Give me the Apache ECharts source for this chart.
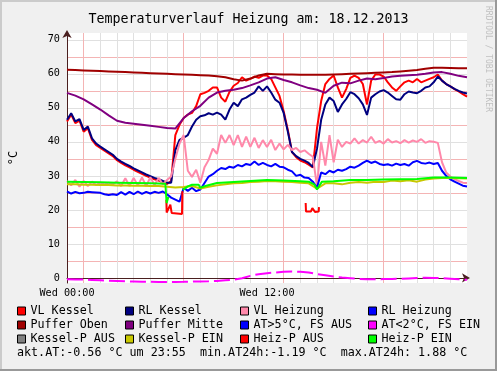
<!DOCTYPE html>
<html><head><meta charset="utf-8">
<script src="https://cdn.jsdelivr.net/npm/echarts@6/dist/echarts.min.js"></script>
<style>html,body{margin:0;padding:0;background:#f0f0f0;overflow:hidden}#c{width:497px;height:371px}</style>
</head><body><div id="c"></div>
<script>
// ---- time grids (hours since Wed 00:00) ----
const hoursQ = Array.from({length: 97}, (_, i) => i * 0.25);
const hoursH = Array.from({length: 49}, (_, i) => i * 0.5);

// ---- series values (°C) ----
const vlKessel = [46.0,48.0,45.5,46.2,43.0,44.0,40.6,39.0,38.2,37.4,
 36.6,35.8,34.6,33.8,33.1,32.5,31.8,31.2,30.6,30.0,
 29.5,29.0,28.6,28.1,27.6,28.5,42.0,45.0,47.0,48.0,
 48.5,50.5,54.0,54.4,55.0,56.0,56.0,53.0,51.8,54.7,
 56.5,57.3,59.0,58.0,58.5,59.2,58.8,59.5,59.5,58.5,
 56.0,53.5,49.0,43.5,37.0,35.5,34.5,34.0,33.3,32.5,
 44.0,52.0,57.0,58.5,59.5,56.0,53.0,55.5,58.8,59.5,
 58.8,57.0,51.0,58.0,59.8,59.8,59.2,57.5,56.0,55.0,
 56.3,57.5,58.0,57.5,58.5,57.5,58.0,58.5,59.0,59.8,
 58.0,57.0,56.3,55.5,54.8,54.0,53.3];
const rlKessel = [46.5,48.4,46.0,46.7,43.5,44.5,41.0,39.5,38.6,37.8,
 37.0,36.2,35.0,34.2,33.5,32.9,32.2,31.6,31.0,30.4,
 29.9,29.4,29.0,28.5,28.0,28.0,37.6,40.6,41.2,42.0,
 44.5,46.5,47.5,47.8,48.4,48.0,48.6,48.0,46.5,49.5,
 51.5,50.5,52.5,53.0,53.8,54.5,56.3,55.0,56.3,54.5,
 52.4,51.5,48.5,43.0,37.0,35.8,35.0,34.5,33.8,32.6,
 38.0,46.5,51.0,53.0,52.0,48.8,51.0,52.6,54.6,54.0,
 52.8,51.0,47.9,53.0,54.0,54.8,55.2,54.5,53.5,52.5,
 52.4,54.0,54.8,54.5,54.3,55.0,56.0,56.3,57.5,59.2,
 58.0,57.0,56.3,55.6,55.0,54.5,54.2];
const vlHeizung = [28.5,27.2,28.8,26.8,28.5,27.0,28.3,27.3,28.0,27.5,
 28.0,27.5,28.4,27.0,29.3,27.0,29.4,27.2,29.5,27.0,
 29.6,27.3,29.4,27.5,28.8,29.8,35.0,39.5,42.0,31.5,
 29.7,31.8,28.0,32.5,34.7,38.0,36.5,42.0,39.7,42.0,
 39.0,42.0,38.5,41.5,38.5,41.2,38.2,40.5,38.5,40.6,
 37.6,39.5,37.8,39.1,37.6,38.2,37.0,37.5,36.5,35.6,
 27.0,40.0,33.0,42.0,34.0,40.6,38.5,40.0,39.5,41.0,
 39.5,40.5,39.8,41.5,39.7,40.3,39.5,40.8,39.8,40.2,
 39.6,40.5,39.8,40.4,40.0,40.8,39.7,40.2,40.0,39.7,
 34.0,31.0,29.8,29.0,28.5,28.0,27.9];
const rlHeizung = [25.4,24.8,25.3,24.9,25.0,25.3,25.2,25.1,25.0,24.6,
 24.4,24.6,24.4,25.2,24.5,25.3,24.6,25.4,24.7,25.3,
 24.8,25.3,25.0,25.4,24.6,23.6,23.0,22.4,26.5,25.6,
 26.5,25.5,26.0,27.9,29.8,30.5,31.5,32.3,32.0,32.7,
 32.4,33.2,32.8,33.5,33.2,34.2,33.2,33.8,33.2,32.8,
 33.5,32.7,32.5,31.8,31.3,30.0,30.3,29.5,29.4,28.3,
 26.5,31.0,30.5,31.5,31.0,31.8,31.5,32.0,32.7,32.4,
 33.0,33.8,34.5,33.8,34.2,33.5,33.2,33.4,33.0,33.6,
 33.2,33.5,33.0,34.0,34.4,33.8,33.6,33.9,33.5,33.8,
 31.5,30.0,29.0,28.3,27.7,27.1,26.9];
const pufferOben = [61.2,61.1,61.0,60.9,60.8,60.7,60.6,60.5,60.4,60.3,
 60.2,60.1,60.0,59.9,59.8,59.7,59.6,59.5,59.3,59.0,
 58.4,58.0,58.6,59.5,60.0,59.9,59.8,59.8,59.7,59.7,
 59.7,59.7,59.8,59.9,60.0,60.1,60.2,60.3,60.4,60.5,
 60.7,60.9,61.1,61.5,61.8,61.8,61.7,61.6,61.6];
const pufferMitte = [54.4,53.6,52.5,51.0,49.5,47.8,46.2,45.6,45.3,45.0,
 44.7,44.4,44.1,43.9,47.0,49.0,50.6,53.0,54.5,55.0,
 55.3,55.8,56.6,57.5,58.6,59.0,58.2,57.5,56.6,55.8,
 55.3,54.4,56.5,57.4,57.2,58.0,58.6,58.4,58.8,59.2,
 59.4,59.6,59.7,60.0,60.4,60.5,60.0,59.4,59.0];
const atKalt = [-0.4,-0.45,-0.5,-0.6,-0.7,-0.8,-0.9,-1.0,-1.05,-1.1,
 -1.15,-1.18,-1.19,-1.18,-1.15,-1.1,-1.05,-1.0,-0.9,-0.7,
 -0.5,-0.1,0.6,1.1,1.4,1.6,1.8,1.88,1.8,1.6,
 1.1,0.8,0.4,0.1,-0.1,-0.3,-0.4,-0.4,-0.35,-0.3,
 -0.25,-0.15,-0.05,0.05,0.0,-0.1,-0.25,-0.4,-0.56];
const kesselPEin = [27.5,27.5,27.4,27.4,27.3,27.3,27.2,27.2,27.1,27.1,
 27.0,27.0,26.8,26.6,26.7,27.0,26.3,26.8,27.2,27.5,
 27.8,27.9,28.2,28.3,28.5,28.4,28.3,28.2,28.0,27.8,
 26.2,27.8,27.8,27.5,28.0,28.2,28.0,28.3,28.2,28.6,
 28.4,28.7,28.3,28.9,29.2,29.4,29.4,29.3,29.2];
const heizPEinHours = [0,1,2,3,4,5,5.9,5.96,5.98,6.06,6.08,6.12,6.13,6.93,6.95,7.25,7.5,7.9,8.0,8.3,
 9,10,11,12,13,14,14.5,14.85,15.0,15.1,15.3,16,17,18,19,20,21,22,23,24];
const heizPEin = [28.3,28.2,28.1,28.0,27.9,27.8,27.7,27.7,22.0,22.0,23.8,23.8,null,null,25.9,26.9,27.4,27.4,26.5,27.0,
 27.9,28.2,28.5,28.8,28.6,28.4,28.3,27.4,26.0,26.5,28.3,28.4,28.8,28.8,28.9,29.0,29.1,29.5,29.5,29.4];
const heizPAusHours = [5.96,5.98,6.1,6.2,6.28,6.9,6.92,6.95,14.32,14.34,14.63,14.72,14.8,14.88,15.1,15.12];
const heizPAus = [23.0,19.2,19.5,21.5,19.1,18.8,25.5,null,22.0,19.5,19.5,20.5,20.3,19.4,19.5,20.8];
const kesselPAus = [];
const atWarm = [];

// ---- labels ----
const titleText = 'Temperaturverlauf Heizung am: 18.12.2013';
const xTickHours = [0, 12];
const xTickLabels = ['Wed 00:00', 'Wed 12:00'];
const legendColumns = [
  ['VL Kessel', 'Puffer Oben', 'Kessel-P AUS'],
  ['RL Kessel', 'Puffer Mitte', 'Kessel-P EIN'],
  ['VL Heizung', 'AT>5°C, FS AUS', 'Heiz-P AUS'],
  ['RL Heizung', 'AT<2°C, FS EIN', 'Heiz-P EIN']
];
const summaryText = 'akt.AT:-0.56 °C um 23:55  min.AT24h:-1.19 °C  max.AT24h: 1.88 °C';

const FONT = 'DejaVu Sans Mono';
function pairs(xs, ys) { return xs.map((x, i) => [x, ys[i]]); }

const defs = [
  {name: 'VL Kessel', color: '#ff0000', data: pairs(hoursQ, vlKessel)},
  {name: 'RL Kessel', color: '#000080', data: pairs(hoursQ, rlKessel)},
  {name: 'VL Heizung', color: '#ff88aa', data: pairs(hoursQ, vlHeizung)},
  {name: 'RL Heizung', color: '#0000ff', data: pairs(hoursQ, rlHeizung)},
  {name: 'Puffer Oben', color: '#a00000', data: pairs(hoursH, pufferOben)},
  {name: 'Puffer Mitte', color: '#800080', data: pairs(hoursH, pufferMitte)},
  {name: 'AT>5°C, FS AUS', color: '#0000ff', data: atWarm},
  {name: 'AT<2°C, FS EIN', color: '#ff00ff', data: pairs(hoursH, atKalt), dash: [16, 5]},
  {name: 'Kessel-P AUS', color: '#808080', data: kesselPAus},
  {name: 'Kessel-P EIN', color: '#c8c800', data: pairs(hoursH, kesselPEin)},
  {name: 'Heiz-P AUS', color: '#ff0000', data: pairs(heizPAusHours, heizPAus)},
  {name: 'Heiz-P EIN', color: '#00ff00', data: pairs(heizPEinHours, heizPEin)}
];

const series = defs.map(d => ({
  name: d.name, type: 'line', data: d.data,
  showSymbol: false, symbol: 'none', animation: false, connectNulls: false,
  itemStyle: {color: d.color},
  lineStyle: {color: d.color, width: 2, type: d.dash || 'solid'},
  emphasis: {disabled: true}
}));

const legendLeft = [17, 125, 240, 368];
const legends = legendColumns.map((col, i) => ({
  orient: 'vertical', left: legendLeft[i], top: 304,
  itemWidth: 8, itemHeight: 8, itemGap: 0, icon: 'rect', selectedMode: false,
  padding: 0,
  itemStyle: {borderColor: '#000', borderWidth: 1},
  textStyle: {fontFamily: FONT, fontSize: 11.7, color: '#000', lineHeight: 14},
  data: col
}));

const chart = echarts.init(document.getElementById('c'), null, {renderer: 'canvas'});
chart.setOption({
  backgroundColor: '#f0f0f0',
  animation: false,
  title: {text: titleText, left: 'center', top: 8,
    textStyle: {fontFamily: FONT, fontSize: 13.3, fontWeight: 'normal', color: '#000'}},
  legend: legends,
  grid: {left: 67, right: 30, top: 33, bottom: 88, show: true, backgroundColor: '#ffffff', borderWidth: 0},
  xAxis: {
    type: 'value', min: 0, max: 24, interval: 1,
    axisLine: {show: true, lineStyle: {color: '#4a1f1f', width: 1}, symbol: ['none', 'arrow'], symbolSize: [7, 8], symbolOffset: [0, 3]},
    axisTick: {show: false},
    axisLabel: {margin: 5, fontFamily: FONT, fontSize: 10.2, color: '#000',
      formatter: v => { const k = xTickHours.indexOf(v); return k >= 0 ? xTickLabels[k] : ''; }},
    splitLine: {show: true, showMinLine: false, showMaxLine: false,
      lineStyle: {color: ['#f4b4b4', '#e0e0e0', '#e0e0e0', '#e0e0e0', '#e0e0e0', '#e0e0e0'], width: 1}}
  },
  yAxis: {
    type: 'value', min: -1.5, max: 72, splitNumber: 15,
    axisLine: {show: true, lineStyle: {color: '#4a1f1f', width: 1}, symbol: ['none', 'arrow'], symbolSize: [7, 8], symbolOffset: [0, 3]},
    axisTick: {show: false},
    axisLabel: {margin: 7, fontFamily: FONT, fontSize: 10.2, color: '#000',
      formatter: v => (Math.abs(v % 10) < 1e-9 ? String(v) : '')},
    splitLine: {show: true, showMinLine: false, showMaxLine: false,
      lineStyle: {color: ['#e0e0e0', '#f4b4b4'], width: 1}}
  },
  graphic: [
    {type: 'text', x: 14, y: 158, rotation: Math.PI / 2,
      style: {text: '°C', fontFamily: FONT, fontSize: 12, fill: '#000', align: 'center', verticalAlign: 'middle'}},
    {type: 'text', x: 488, y: 6, rotation: -Math.PI / 2,
      style: {text: 'RRDTOOL / TOBI OETIKER', fontFamily: FONT, fontSize: 8, fill: '#c0c0c0', align: 'left', verticalAlign: 'middle'}},
    {type: 'text', x: 17, y: 353,
      style: {text: summaryText, fontFamily: FONT, fontSize: 11.7, fill: '#000', align: 'left', verticalAlign: 'middle'}},
    {type: 'rect', shape: {x: 0, y: 0, width: 497, height: 2}, style: {fill: '#cbcbcb'}},
    {type: 'rect', shape: {x: 0, y: 0, width: 2, height: 371}, style: {fill: '#cbcbcb'}},
    {type: 'rect', shape: {x: 495, y: 0, width: 2, height: 371}, style: {fill: '#999999'}},
    {type: 'rect', shape: {x: 0, y: 369, width: 497, height: 2}, style: {fill: '#999999'}}
  ],
  series: series
});
</script>
</body></html>
